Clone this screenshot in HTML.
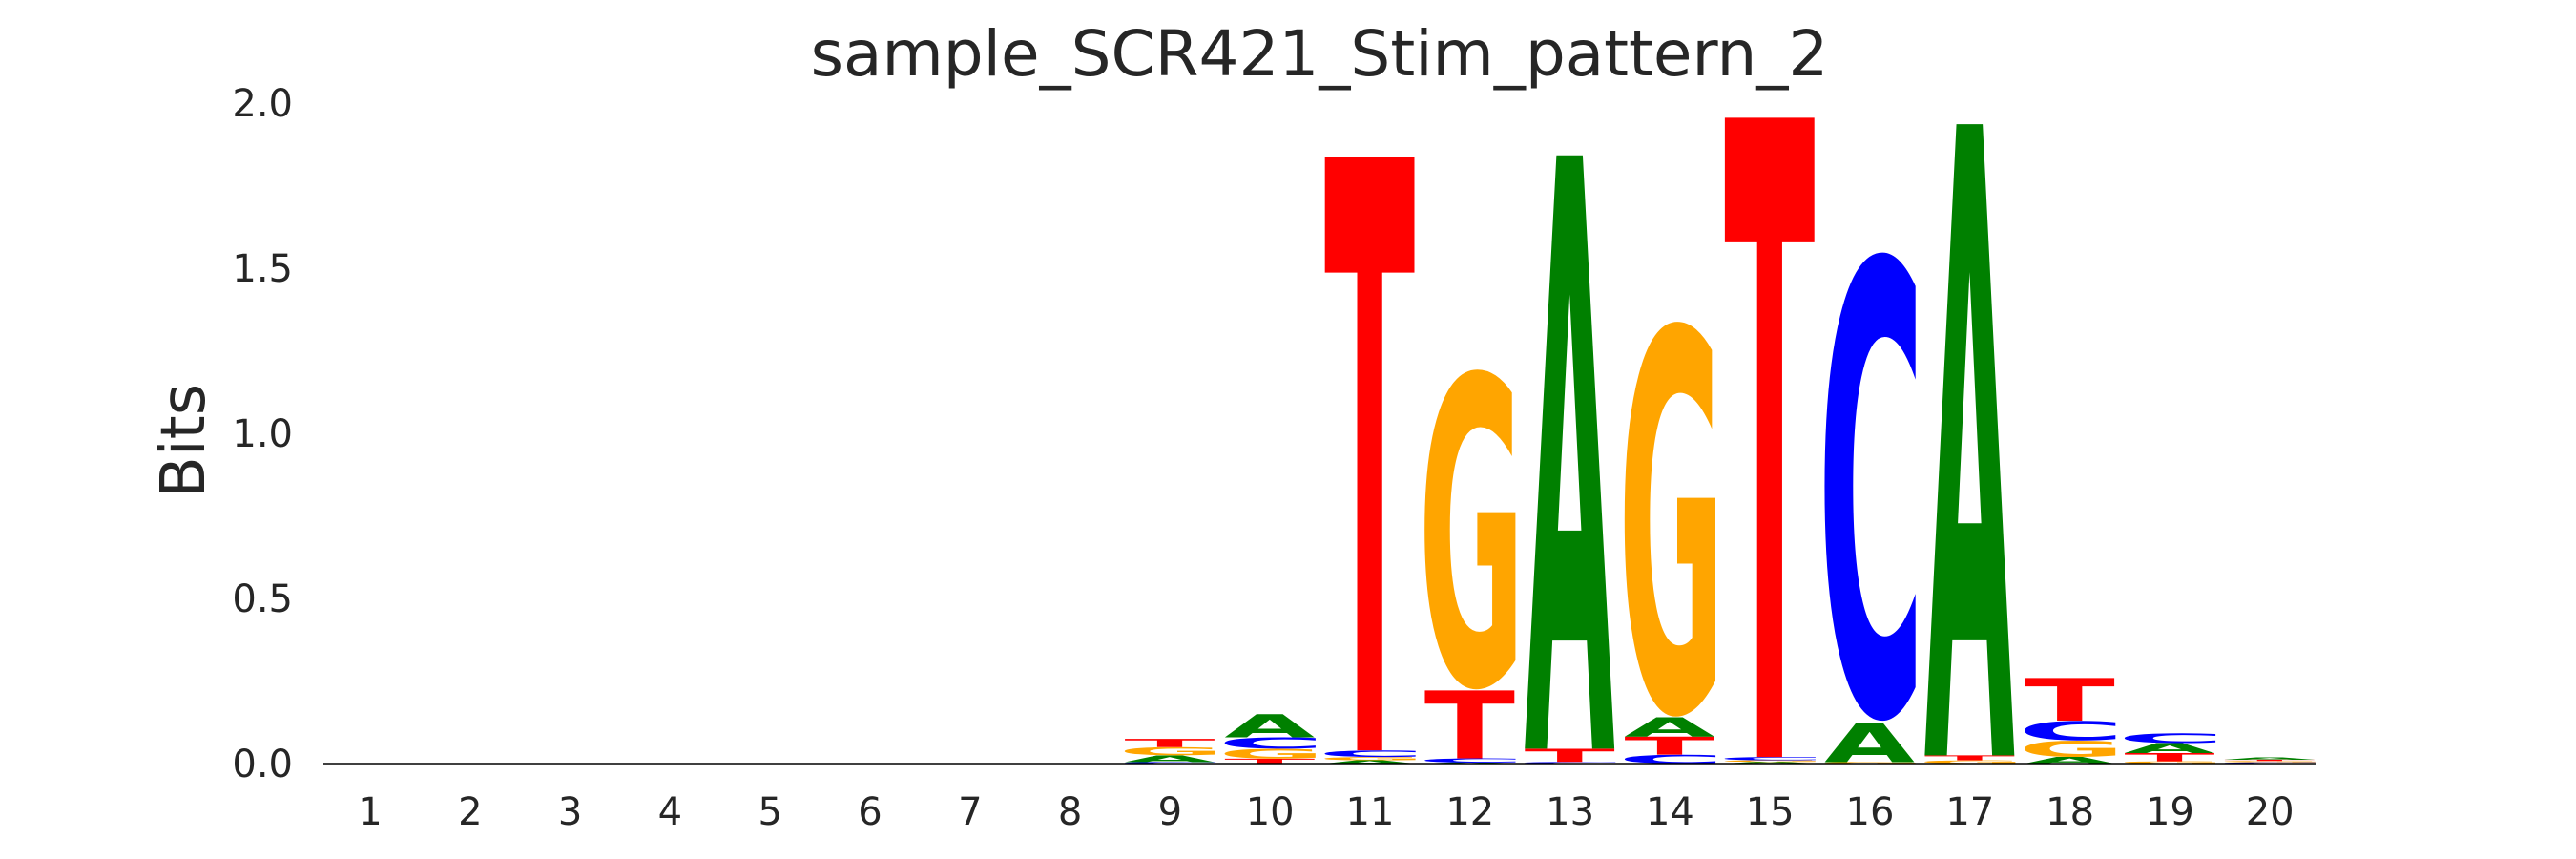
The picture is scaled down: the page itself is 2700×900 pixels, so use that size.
<!DOCTYPE html>
<html><head><meta charset="utf-8">
<style>
html,body{margin:0;padding:0;background:#fff;width:2700px;height:900px;overflow:hidden;}
svg{display:block;overflow:hidden;}
text{font-family:"DejaVu Sans","Liberation Sans",sans-serif;fill:#262626;}
</style></head>
<body>
<svg id="chart" width="2700" height="900" viewBox="0 0 2700 900" xmlns="http://www.w3.org/2000/svg">
  <text x="1383" y="79" font-size="66" text-anchor="middle">sample_SCR421_Stim_pattern_2</text>
  <text transform="translate(214,462) rotate(-90)" font-size="64" text-anchor="middle">Bits</text>
  <g id="yticks"></g>
  <g id="xticks"></g>
  <g id="letters"></g>
  <line x1="339" y1="800" x2="2428" y2="800" stroke="#000" stroke-width="1.6"/>
</svg>
<script>
const positions = [1,2,3,4,5,6,7,8,9,10,11,12,13,14,15,16,17,18,19,20];
const yTickValues = [0.0, 0.5, 1.0, 1.5, 2.0];
const yTickLabels = ["0.0","0.5","1.0","1.5","2.0"];
// bits per letter, per position
const bitsA = [0,0,0,0,0,0,0,0,0.02,0.07,0.01,0.003,1.81,0.058,0.005,0.122,1.925,0.02,0.03,0.008];
const bitsC = [0,0,0,0,0,0,0,0,0.005,0.035,0.02,0.013,0.005,0.027,0.01,1.435,0,0.06,0.03,0.004];
const bitsG = [0,0,0,0,0,0,0,0,0.025,0.03,0.01,0.98,0,1.21,0.005,0.005,0.01,0.05,0.007,0.004];
const bitsT = [0,0,0,0,0,0,0,0,0.025,0.015,1.81,0.207,0.04,0.055,1.95,0,0.015,0.13,0.025,0.004];

const NS = "http://www.w3.org/2000/svg";
const y0 = 800, pxPerBit = 346;
const x1 = 388, step = 104.8, letterW = 96;
function yScale(v){ return y0 - v*pxPerBit; }
function xScale(p){ return x1 + (p-1)*step; }

const colors = {A:"#008000", C:"#0000ff", G:"#ffa500", T:"#ff0000"};
const series = {A:bitsA, C:bitsC, G:bitsG, T:bitsT};

const yt = document.getElementById('yticks');
yTickValues.forEach((v,i)=>{
  const t = document.createElementNS(NS,'text');
  
  
  t.setAttribute('x', 307);
  t.setAttribute('y', yScale(v)+14);
  t.setAttribute('font-size', 40);
  t.setAttribute('text-anchor','end');
  t.textContent = yTickLabels[i];
  yt.appendChild(t);
});
const xt = document.getElementById('xticks');
positions.forEach(p=>{
  const t = document.createElementNS(NS,'text');
  
  
  t.setAttribute('x', xScale(p));
  t.setAttribute('y', 864);
  t.setAttribute('font-size', 40);
  t.setAttribute('text-anchor','middle');
  t.textContent = String(p);
  xt.appendChild(t);
});

const FS = 400;
const cv = document.createElement('canvas').getContext('2d');
cv.font = "bold " + FS + "px 'DejaVu Sans', 'Liberation Sans', sans-serif";
const metrics = {};
["A","C","G","T"].forEach(ch=>{
  const m = cv.measureText(ch);
  metrics[ch] = {l:-m.actualBoundingBoxLeft, r:m.actualBoundingBoxRight, top:m.actualBoundingBoxAscent, bot:-m.actualBoundingBoxDescent};
});

const lg = document.getElementById('letters');
positions.forEach((p,i)=>{
  const stack = ["A","C","G","T"].map(ch=>({ch, v:series[ch][i]})).filter(d=>d.v>0);
  stack.sort((a,b)=>a.v-b.v);
  let base = 0;
  const cx = xScale(p);
  stack.forEach(d=>{
    const yb = yScale(base), ytop = yScale(base+d.v);
    base += d.v;
    const m = metrics[d.ch];
    const inkW = m.r - m.l, inkH = m.top - m.bot;
    const sx = letterW/inkW, sy = (yb-ytop)/inkH;
    const tx = cx - letterW/2 - m.l*sx;
    const ty = yb + m.bot*sy;
    const t = document.createElementNS(NS,'text');
    
    
    t.setAttribute('font-size', FS);
    t.setAttribute('font-weight','bold');
    t.setAttribute('transform','translate('+tx+','+ty+') scale('+sx+','+sy+')');
    t.setAttribute('style','fill:'+colors[d.ch]);
    t.textContent = d.ch;
    lg.appendChild(t);
  });
});
</script>
</body></html>
